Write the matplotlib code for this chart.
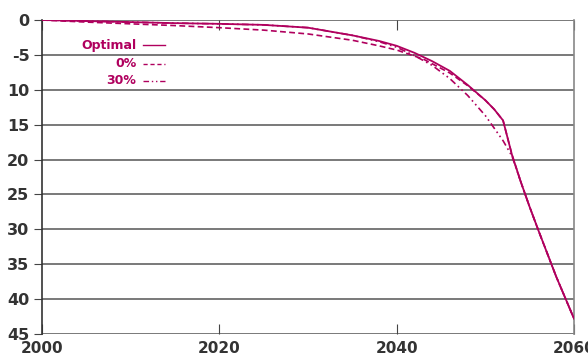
import numpy as np
from matplotlib import pyplot as plt

# years and values (depth below 0, axis is inverted)
years_opt = [2000, 2005, 2010, 2015, 2020, 2025, 2030, 2035, 2038, 2040, 2042, 2044, 2046,
             2048, 2050, 2051, 2052, 2053, 2054, 2055, 2056, 2057, 2058, 2059, 2060]
optimal = [0, 0.15, 0.3, 0.45, 0.55, 0.7, 1.1, 2.2, 3.0, 3.7, 4.7, 5.9, 7.3,
           9.3, 11.5, 12.8, 14.4, 19.3, 23.2, 26.8, 30.2, 33.5, 36.8, 39.8, 42.8]

years_0 = [2000, 2005, 2010, 2015, 2020, 2025, 2030, 2035, 2038, 2040, 2043, 2046, 2048,
           2050, 2051, 2052, 2053, 2054, 2055, 2056, 2057, 2058, 2059, 2060]
zero_pct = [0, 0.3, 0.55, 0.8, 1.1, 1.45, 2.0, 2.9, 3.7, 4.3, 5.6, 7.6, 9.4,
            11.5, 12.8, 14.4, 19.3, 23.2, 26.8, 30.2, 33.5, 36.8, 39.8, 42.8]

years_30 = [2000, 2005, 2010, 2015, 2020, 2025, 2030, 2035, 2038, 2040, 2042, 2044, 2046,
            2048, 2050, 2051, 2052, 2053, 2054, 2055, 2056, 2057, 2058, 2059, 2060]
thirty_pct = [0, 0.15, 0.3, 0.45, 0.55, 0.7, 1.1, 2.2, 3.1, 3.9, 5.1, 6.5, 8.4,
              10.8, 13.7, 15.5, 17.3, 19.5, 23.2, 26.8, 30.2, 33.5, 36.8, 39.8, 42.8]

x_ticks = [2000, 2020, 2040, 2060]
y_ticks = [0, 5, 10, 15, 20, 25, 30, 35, 40, 45]
y_labels = ["0", "-5", "10", "15", "20", "25", "30", "35", "40", "45"]

col = "#B0005E"

fig = plt.figure(figsize=(5.88, 3.61), dpi=100)
ax = fig.add_axes([0.0714, 0.0748, 0.9048, 0.8698])

for y in y_ticks:
    ax.axhline(y, color="#6e6e6e", lw=1.3, zorder=1)

ax.plot(years_opt, optimal, color=col, lw=1.3, zorder=3)
ax.plot(years_0, zero_pct, color=col, lw=1.2, ls=(0, (3.5, 2)), zorder=3)
ax.plot(years_30, thirty_pct, color=col, lw=1.2, ls=(0, (4, 2, 1, 2, 1, 2)), zorder=3)

ax.set_xlim(2000, 2060)
ax.set_ylim(45, 0)
ax.set_xticks(x_ticks)
ax.set_yticks(y_ticks)
ax.set_yticklabels(y_labels)

for s in ["top", "bottom"]:
    ax.spines[s].set_visible(False)
ax.spines["left"].set_color("#333333")
ax.spines["right"].set_color("#888888")
ax.spines["left"].set_linewidth(1.2)
ax.spines["right"].set_linewidth(1.2)

ax.tick_params(axis="x", direction="in", length=7, top=True, bottom=True,
               color="#444444", pad=5, labelsize=11, labelcolor="#333333")
ax.tick_params(axis="y", direction="out", length=6, color="#444444",
               labelsize=11.5, labelcolor="#333333", pad=3)
for lab in ax.get_xticklabels() + ax.get_yticklabels():
    lab.set_fontweight("bold")

# legend drawn by hand: labels right-aligned, sample line to the right
leg = [("Optimal", "-", 0.920), ("0%", (0, (3, 2)), 0.860), ("30%", (0, (4, 2, 1, 2, 1, 2)), 0.806)]
for name, style, yy in leg:
    ax.text(0.177, yy, name, transform=ax.transAxes, ha="right", va="center",
            color=col, fontsize=9, fontweight="bold")
    ax.plot([0.190, 0.231], [yy, yy], transform=ax.transAxes, color=col,
            lw=1.0, ls=style, clip_on=False)

fig.savefig("out.png", dpi=100)
